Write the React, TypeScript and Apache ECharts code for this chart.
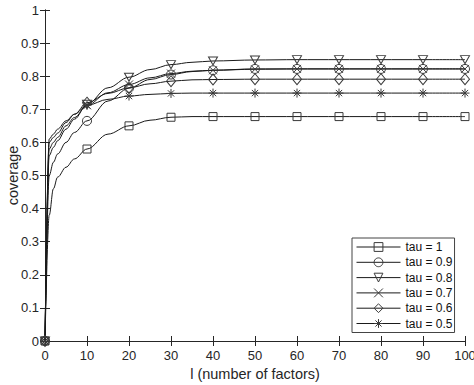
import React, { useEffect, useRef } from "react";
import * as echarts from "echarts";

const L = [0, 1, 2, 3, 5, 7, 10, 15, 20, 25, 30, 35, 40, 50, 60, 70, 80, 90, 100];
const tau10 = [0, 0.38, 0.46, 0.495, 0.525, 0.55, 0.58, 0.625, 0.65, 0.667, 0.676, 0.678, 0.678, 0.678, 0.678, 0.678, 0.678, 0.678, 0.678];
const tau09 = [0, 0.5, 0.54, 0.565, 0.6, 0.63, 0.665, 0.725, 0.764, 0.79, 0.805, 0.814, 0.818, 0.822, 0.822, 0.822, 0.822, 0.822, 0.822];
const tau08 = [0, 0.56, 0.585, 0.605, 0.64, 0.67, 0.715, 0.765, 0.797, 0.82, 0.835, 0.842, 0.846, 0.849, 0.85, 0.85, 0.85, 0.85, 0.85];
const tau07 = [0, 0.58, 0.6, 0.615, 0.65, 0.675, 0.712, 0.75, 0.775, 0.795, 0.808, 0.815, 0.818, 0.821, 0.822, 0.822, 0.822, 0.822, 0.822];
const tau06 = [0, 0.6, 0.615, 0.628, 0.66, 0.685, 0.72, 0.748, 0.765, 0.777, 0.785, 0.789, 0.79, 0.791, 0.791, 0.791, 0.791, 0.791, 0.791];
const tau05 = [0, 0.61, 0.625, 0.64, 0.665, 0.685, 0.712, 0.73, 0.74, 0.745, 0.748, 0.749, 0.749, 0.749, 0.749, 0.749, 0.749, 0.749, 0.749];

const names = ["tau = 1", "tau = 0.9", "tau = 0.8", "tau = 0.7", "tau = 0.6", "tau = 0.5"];
const seriesValues = [tau10, tau09, tau08, tau07, tau06, tau05];
const symbols = [
  "rect",
  "circle",
  "path://M0,0L10,0L5,9Z",
  "path://M0,0L10,10M10,0L0,10",
  "diamond",
  "path://M5,0L5,10M0,5L10,5M1.5,1.5L8.5,8.5M8.5,1.5L1.5,8.5",
];
const symbolSizes = [8, 9, [9, 8], 8, [9, 11], 9];

const FONT = "Liberation Sans";
const AXC = "#262626";

export default function App() {
  const ref = useRef<HTMLDivElement>(null);
  useEffect(() => {
    const chart = echarts.init(ref.current!, null, { renderer: "svg" });
    const axisCommon = {
      type: "value" as const,
      axisLine: { show: true, lineStyle: { color: AXC, width: 1 } },
      axisTick: { show: true, inside: true, length: 5, lineStyle: { color: AXC } },
      splitLine: { show: false },
    };
    chart.setOption({
      animation: false,
      backgroundColor: "#fff",
      grid: { left: 45, right: 9, top: 10, bottom: 44, containLabel: false, outerBoundsMode: "none" },
      legend: {
        orient: "vertical",
        left: 352,
        top: 238,
        backgroundColor: "#fff",
        borderColor: "#444",
        borderWidth: 1,
        borderRadius: 0,
        padding: [3, 2, 3, 4],
        itemWidth: 44,
        itemHeight: 11,
        itemGap: 3.3,
        textStyle: { fontFamily: FONT, fontSize: 12, color: "#111" },
        itemStyle: { color: "rgba(255,255,255,0)", borderColor: "#3a3a3a", borderWidth: 1 },
        lineStyle: { color: "#1a1a1a", width: 1 },
        data: names,
      },
      xAxis: [
        {
          ...axisCommon,
          min: 0,
          max: 100,
          interval: 10,
          position: "bottom",
          axisLabel: { fontFamily: FONT, fontSize: 13, color: AXC, margin: 8 },
          name: "l (number of factors)",
          nameLocation: "middle",
          nameMoveOverlap: false,
          nameGap: 25,
          nameTextStyle: { fontFamily: FONT, fontSize: 14.5, color: AXC },
        },
        {
          ...axisCommon,
          min: 0,
          max: 100,
          interval: 10,
          position: "top",
          axisLabel: { show: false },
        },
      ],
      yAxis: [
        {
          ...axisCommon,
          min: 0,
          max: 1,
          interval: 0.1,
          position: "left",
          axisLabel: { fontFamily: FONT, fontSize: 13, color: AXC, margin: 6 },
          name: "coverage",
          nameLocation: "middle",
          nameMoveOverlap: false,
          nameGap: 25,
          nameTextStyle: { fontFamily: FONT, fontSize: 14.5, color: AXC },
        },
        {
          ...axisCommon,
          min: 0,
          max: 1,
          interval: 0.1,
          position: "right",
          axisLabel: { show: false },
        },
      ],
      series: names.map((n, i) => ({
        name: n,
        type: "line",
        xAxisIndex: 0,
        yAxisIndex: 0,
        data: L.map((x, j) => [x, seriesValues[i][j]]),
        smooth: 0.35,
        smoothMonotone: "x",
        symbol: symbols[i],
        symbolSize: (_v: any, p: any) => (L[p.dataIndex] % 10 === 0 ? symbolSizes[i] : 0),
        showAllSymbol: true,
        lineStyle: { color: "#1a1a1a", width: 1 },
        itemStyle: { color: "rgba(255,255,255,0)", borderColor: "#3a3a3a", borderWidth: 1 },
        emphasis: { disabled: true },
      })),
    });
    return () => chart.dispose();
  }, []);
  return <div ref={ref} style={{ width: 474, height: 385, position: "absolute", left: 0, top: 0 }} />;
}
